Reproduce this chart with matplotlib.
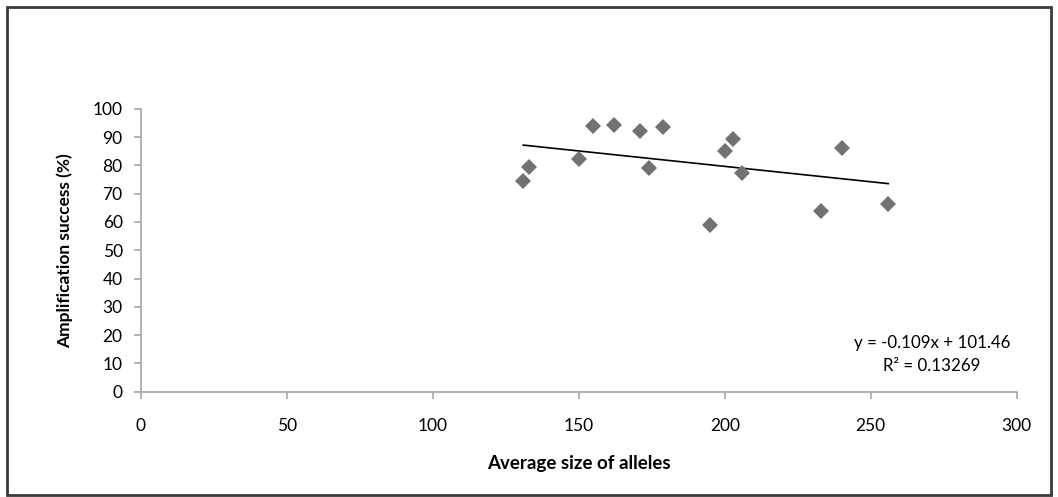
import numpy as np
import matplotlib
matplotlib.use('Agg')
import matplotlib.pyplot as plt
from matplotlib.patches import Rectangle

# Average allele size vs amplification success
allele_size = [131, 133, 150, 155, 162, 171, 174, 179, 195, 200, 203, 206, 233, 240, 256]
success = [74.6, 79.6, 82.3, 94.1, 94.4, 92.0, 79.2, 93.7, 58.9, 85.0, 89.5, 77.3, 63.9, 86.0, 66.5]

# Trendline as printed on the chart
slope = -0.109
intercept = 101.46
r_squared = 0.13269

x_ticks = [0, 50, 100, 150, 200, 250, 300]
y_ticks = [0, 10, 20, 30, 40, 50, 60, 70, 80, 90, 100]

plt.rcParams['font.family'] = ['Lato', 'DejaVu Sans']

fig = plt.figure(figsize=(10.58, 4.97), dpi=100)
ax = fig.add_axes([0.133, 0.212, 0.828, 0.569])

axis_grey = '#a6a6a6'
ax.plot(allele_size, success, linestyle='none', marker='D', markersize=8,
        color='#727272', markeredgewidth=0, zorder=3)

xs = np.array([min(allele_size), max(allele_size)])
ax.plot(xs, slope * xs + intercept, color='black', linewidth=1.2, zorder=2)

ax.set_xlim(0, 300)
ax.set_ylim(0, 100)
ax.set_xticks(x_ticks)
ax.set_yticks(y_ticks)
for s in ['top', 'right']:
    ax.spines[s].set_visible(False)
for s in ['left', 'bottom']:
    ax.spines[s].set_color(axis_grey)
    ax.spines[s].set_linewidth(1.2)
ax.tick_params(axis='both', colors=axis_grey, labelcolor='black', labelsize=12.5,
               length=5, width=1.2, direction='out')
ax.tick_params(axis='x', pad=14)
ax.tick_params(axis='y', pad=8)

ax.set_xlabel('Average size of alleles', fontsize=13.5, fontweight='bold', labelpad=15)
ax.set_ylabel('Amplification success (%)', fontsize=12.5, fontweight='bold', labelpad=14)

eq = 'y = %.3fx + %.2f\nR² = %.5f' % (slope, intercept, r_squared)
ax.text(271, 13.2, eq, fontsize=12.2, ha='center', va='center', linespacing=1.5)

fig.patches.append(Rectangle((0.007, 0.004), 0.986, 0.982, transform=fig.transFigure,
                             fill=False, edgecolor='#3a3a3a', linewidth=2))

fig.savefig('out.png', dpi=100)
